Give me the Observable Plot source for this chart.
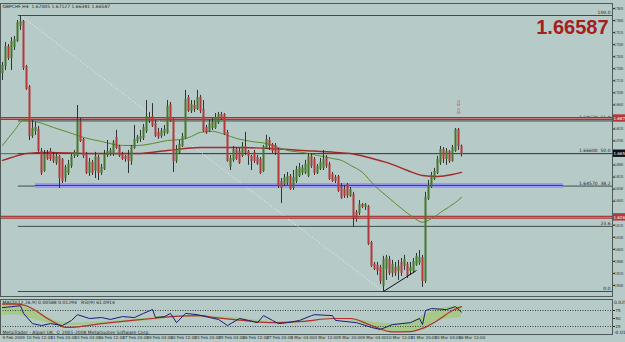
<!DOCTYPE html>
<html><head><meta charset="utf-8">
<script src="https://cdn.jsdelivr.net/npm/d3@7"></script>
<script src="https://cdn.jsdelivr.net/npm/@observablehq/plot@0.6"></script>
<style>
html,body{margin:0;padding:0;background:#b6cac8;}
#wrap{width:625px;height:342px;overflow:hidden;display:flex;flex-direction:column;}
#wrap svg{display:block;max-width:none;}
</style></head><body><div id="wrap"></div>
<script>
// ---------- data ----------
const symbol = "GBPCHF,H4";
// H4 bars, 9 Feb 2009 00:00 .. 16 Mar 2009 12:00 : [open, high, low, close]
const gbpchfH4 = [
[1.7165,1.7228,1.7115,1.7203],[1.7209,1.7352,1.7177,1.7320],[1.7320,1.7339,1.7240,1.7258],[1.7258,1.7383,1.7177,1.7352],
[1.7327,1.7390,1.7302,1.7364],[1.7364,1.7489,1.7352,1.7470],[1.7458,1.7520,1.7427,1.7477],[1.7477,1.7489,1.7177,1.7196],
[1.7196,1.7209,1.7053,1.7065],[1.7071,1.7084,1.6741,1.6773],[1.6773,1.6866,1.6754,1.6810],[1.6804,1.6854,1.6773,1.6816],
[1.6804,1.6829,1.6667,1.6679],[1.6667,1.6691,1.6523,1.6542],[1.6554,1.6679,1.6542,1.6648],[1.6648,1.6679,1.6617,1.6629],
[1.6667,1.6691,1.6611,1.6629],[1.6642,1.6667,1.6598,1.6617],[1.6605,1.6660,1.6586,1.6635],[1.6635,1.6648,1.6442,1.6510],
[1.6617,1.6629,1.6473,1.6492],[1.6510,1.6586,1.6480,1.6567],[1.6542,1.6617,1.6523,1.6586],[1.6586,1.6654,1.6567,1.6635],
[1.6648,1.6679,1.6629,1.6660],[1.6648,1.6959,1.6635,1.6854],[1.6854,1.6878,1.6729,1.6741],[1.6741,1.6754,1.6629,1.6648],
[1.6648,1.6667,1.6529,1.6542],[1.6542,1.6629,1.6517,1.6598],[1.6598,1.6617,1.6523,1.6542],[1.6554,1.6667,1.6504,1.6635],
[1.6629,1.6648,1.6492,1.6542],[1.6542,1.6592,1.6523,1.6567],[1.6567,1.6679,1.6554,1.6648],[1.6654,1.6741,1.6635,1.6667],
[1.6660,1.6691,1.6642,1.6673],[1.6660,1.6741,1.6642,1.6722],[1.6754,1.6804,1.6685,1.6697],[1.6697,1.6710,1.6635,1.6648],
[1.6648,1.6667,1.6617,1.6629],[1.6635,1.6648,1.6605,1.6629],[1.6642,1.6679,1.6535,1.6617],[1.6617,1.6710,1.6586,1.6697],
[1.6697,1.6835,1.6685,1.6741],[1.6741,1.6773,1.6722,1.6754],[1.6754,1.6804,1.6729,1.6760],[1.6760,1.6841,1.6741,1.6816],
[1.6804,1.6990,1.6785,1.6884],[1.6878,1.6916,1.6847,1.6866],[1.6884,1.6971,1.6822,1.6835],[1.6841,1.6866,1.6760,1.6773],
[1.6785,1.6816,1.6748,1.6767],[1.6773,1.6816,1.6754,1.6792],[1.6792,1.6835,1.6767,1.6804],[1.6792,1.6990,1.6779,1.6946],
[1.6959,1.6978,1.6854,1.6866],[1.6866,1.6878,1.6542,1.6617],[1.6617,1.6710,1.6598,1.6679],[1.6667,1.6741,1.6654,1.6710],
[1.6710,1.6785,1.6697,1.6760],[1.6760,1.7053,1.6748,1.6990],[1.7003,1.7022,1.6916,1.6928],[1.6928,1.6990,1.6909,1.6959],
[1.6953,1.6990,1.6916,1.6940],[1.6940,1.7053,1.6928,1.7003],[1.7003,1.7022,1.6909,1.6928],[1.6928,1.6990,1.6792,1.6804],
[1.6816,1.6835,1.6779,1.6792],[1.6804,1.6866,1.6792,1.6841],[1.6822,1.6878,1.6804,1.6847],[1.6822,1.6909,1.6810,1.6878],
[1.6854,1.6916,1.6841,1.6897],[1.6897,1.6916,1.6866,1.6878],[1.6897,1.6909,1.6773,1.6785],[1.6785,1.6804,1.6605,1.6617],
[1.6580,1.6648,1.6554,1.6623],[1.6623,1.6704,1.6605,1.6679],[1.6679,1.6697,1.6617,1.6629],[1.6667,1.6691,1.6592,1.6605],
[1.6648,1.6729,1.6635,1.6697],[1.6697,1.6792,1.6648,1.6667],[1.6667,1.6679,1.6586,1.6648],[1.6635,1.6648,1.6554,1.6617],
[1.6660,1.6679,1.6598,1.6617],[1.6629,1.6648,1.6586,1.6598],[1.6617,1.6635,1.6529,1.6542],[1.6554,1.6710,1.6542,1.6697],
[1.6697,1.6773,1.6685,1.6741],[1.6735,1.6760,1.6679,1.6710],[1.6710,1.6722,1.6660,1.6679],[1.6704,1.6722,1.6648,1.6667],
[1.6679,1.6691,1.6442,1.6461],[1.6480,1.6504,1.6348,1.6448],[1.6473,1.6529,1.6455,1.6504],[1.6480,1.6542,1.6461,1.6510],
[1.6510,1.6529,1.6430,1.6442],[1.6448,1.6554,1.6430,1.6504],[1.6492,1.6580,1.6473,1.6554],[1.6523,1.6598,1.6510,1.6567],
[1.6542,1.6586,1.6523,1.6561],[1.6542,1.6617,1.6529,1.6586],[1.6523,1.6660,1.6510,1.6635],[1.6635,1.6660,1.6567,1.6586],
[1.6617,1.6635,1.6523,1.6542],[1.6542,1.6592,1.6529,1.6573],[1.6567,1.6629,1.6554,1.6598],[1.6573,1.6679,1.6554,1.6617],
[1.6629,1.6648,1.6567,1.6586],[1.6586,1.6605,1.6492,1.6504],[1.6523,1.6542,1.6480,1.6492],[1.6504,1.6523,1.6473,1.6492],
[1.6510,1.6523,1.6418,1.6430],[1.6448,1.6473,1.6374,1.6386],[1.6430,1.6461,1.6380,1.6399],[1.6461,1.6473,1.6380,1.6399],
[1.6399,1.6448,1.6386,1.6430],[1.6399,1.6418,1.6199,1.6261],[1.6286,1.6305,1.6231,1.6255],[1.6293,1.6367,1.6274,1.6336],
[1.6336,1.6348,1.6317,1.6330],[1.6330,1.6348,1.6305,1.6336],[1.6323,1.6336,1.6087,1.6099],[1.6099,1.6112,1.5950,1.5963],
[1.5963,1.5981,1.5931,1.5944],[1.5957,1.5981,1.5900,1.5931],[1.5944,1.5963,1.5844,1.5869],[1.5838,1.6019,1.5800,1.5994],
[1.5944,1.6025,1.5869,1.6006],[1.5994,1.6019,1.5900,1.5919],[1.5919,1.5994,1.5888,1.5963],[1.5944,1.5981,1.5894,1.5919],
[1.5931,1.5994,1.5869,1.5950],[1.5975,1.6006,1.5894,1.5919],[1.5963,1.6025,1.5931,1.5994],[1.5963,1.5981,1.5881,1.5900],
[1.5931,1.5981,1.5900,1.5944],[1.5931,1.6006,1.5912,1.5981],[1.5969,1.6037,1.5957,1.6012],[1.5981,1.6056,1.5963,1.6006],
[1.6006,1.6025,1.5825,1.5869],[1.5869,1.6418,1.5850,1.6380],[1.6380,1.6492,1.6367,1.6455],[1.6455,1.6542,1.6442,1.6517],
[1.6504,1.6567,1.6492,1.6542],[1.6542,1.6642,1.6529,1.6617],[1.6605,1.6704,1.6586,1.6679],[1.6679,1.6697,1.6598,1.6629],
[1.6629,1.6691,1.6586,1.6667],[1.6667,1.6679,1.6598,1.6617],[1.6617,1.6710,1.6605,1.6691],[1.6679,1.6816,1.6667,1.6804],
[1.6804,1.6816,1.6679,1.6710],[1.67005,1.67127,1.66381,1.66587]
];
// moving averages: [bar, price]
const fastMA = [[0,1.6710],[4,1.6804],[7,1.6866],[12,1.6854],[17,1.6822],[22,1.6792],[27,1.6760],[33,1.6735],[40,1.6710],[45,1.6710],[50,1.6722],[55,1.6741],[60,1.6748],[63,1.6767],[66,1.6792],[70,1.6798],[74,1.6779],[78,1.6754],[83,1.6735],[88,1.6722],[92,1.6697],[95,1.6679],[100,1.6667],[105,1.6648],[110,1.6629],[113,1.6617],[116,1.6586],[120,1.6542],[124,1.6461],[129,1.6380],[133,1.6317],[137,1.6261],[140,1.6231],[143,1.6255],[147,1.6305],[151,1.6355],[153,1.6386]];
const slowMA = [[0,1.6617],[3,1.6635],[8,1.6660],[15,1.6667],[30,1.6660],[45,1.6660],[55,1.6679],[66,1.6697],[78,1.6697],[89,1.6691],[100,1.6679],[111,1.6667],[116,1.6660],[122,1.6635],[129,1.6598],[135,1.6554],[140,1.6523],[145,1.6517],[150,1.6529],[153,1.6542]];
// horizontal levels
const redLevels = [1.6878, 1.6262];
const blueLevel = [{price: 1.6461, fromBar: 11, toBar: 187}];
const fibPercents = [0, 23.6, 38.2, 50, 61.8, 100];
const fibAnchors = {highBar: 6, lowBar: 127};
const trendLine = [{fromBar: 127, fromPrice: 1.5800, toBar: 138, toPrice: 1.5931}];
const sellSignals = [{bar: 152, price: 1.6971}, {bar: 152, price: 1.6922}];
const priceTicks = [1.7563,1.7488,1.7413,1.7338,1.7263,1.7188,1.7113,1.7038,1.6963,1.6888,1.6813,1.6738,1.6663,1.6588,1.6513,1.6438,1.6363,1.6288,1.6213,1.6138,1.6063,1.5988,1.5913,1.5838];
// indicator window: [bar, value]
const rsiLine = [[0,84],[3,87],[6,90],[7,66],[10,34],[13,28],[16,34],[20,28],[23,44],[25,62],[29,50],[33,53],[36,47],[40,56],[44,53],[47,66],[50,78],[51,53],[54,56],[56,66],[58,37],[61,66],[65,62],[69,53],[72,47],[75,28],[79,50],[82,44],[85,37],[87,59],[90,44],[92,34],[95,37],[99,44],[103,59],[104,62],[110,59],[111,44],[118,37],[123,22],[126,16],[130,31],[136,37],[139,50],[140,31],[141,75],[143,81],[148,78],[151,87],[153,70]];
const signalLine = [[0,95],[5,95],[8,90],[11,75],[15,50],[18,34],[21,22],[26,25],[33,34],[40,41],[50,50],[56,56],[66,59],[71,53],[80,44],[90,37],[100,41],[110,50],[116,50],[123,28],[130,8],[136,9],[140,19],[145,44],[150,75],[153,87]];
// histogram band: [bar, low, high]
const histBand = [[0,59,98],[5,62,95],[8,53,90],[12,44,72],[16,34,50],[20,28,38],[25,28,35],[30,31,38],[40,37,44],[50,44,53],[60,53,59],[70,50,56],[80,41,50],[90,34,41],[100,37,41],[110,47,50],[118,40,47],[125,12,37],[130,6,34],[136,9,41],[141,16,62],[145,44,78],[150,50,87],[153,53,88]];
const indicatorHeader = "MACD(12,26,9) 0.00588 0.01294   RSI(9) 61.0914";
const indicatorLimits = ["0.02589", "-0.01586"];
const copyright = "MetaTrader - Alpari UK, \u00a9 2001-2008 MetaQuotes Software Corp.";
const dateTicks = [0,8,16,24,32,40,48,56,64,72,80,88,96,104,112,120,128,136,144,152];
const dateLabels = ["9 Feb 2009","10 Feb 12:00","11 Feb 20:00","13 Feb 04:00","16 Feb 12:00","17 Feb 20:00","19 Feb 04:00","20 Feb 12:00","23 Feb 20:00","25 Feb 04:00","26 Feb 12:00","27 Feb 20:00","3 Mar 04:00","4 Mar 12:00","5 Mar 20:00","9 Mar 04:00","10 Mar 12:00","11 Mar 20:00","13 Mar 04:00","16 Mar 12:00"];

// ---------- derived ----------
const bars = gbpchfH4.map((d, i) => ({i, o: d[0], h: d[1], l: d[2], c: d[3]}));
const last = bars[bars.length - 1];
const fibHigh = bars[fibAnchors.highBar].h, fibLow = bars[fibAnchors.lowBar].l;
const fibRows = fibPercents.map(p => ({p, price: fibLow + (fibHigh - fibLow) * p / 100}));
const xDomain = [-0.667, 203.333];
const BG = "#b6cac8";
const tiny = {fontSize: 4.5, fill: "#1e2626"};
const header = `${symbol}  ${last.o.toFixed(5)} ${last.h.toFixed(5)} ${last.l.toFixed(5)} ${last.c.toFixed(5)}`;
const boxes = [...redLevels.map(p => ({price: p, fill: "#b33838"})), {price: last.c, fill: "#101010"}];
// the axis boxes cover the scale labels they sit on, as in the terminal
const axisTicks = priceTicks.filter(t => boxes.every(b => Math.abs(b.price - t) > 0.0045));

const main = Plot.plot({
  width: 625, height: 297,
  marginLeft: 0, marginRight: 13, marginTop: 3, marginBottom: 1,
  style: {background: BG, fontFamily: "DejaVu Sans, sans-serif", fontSize: "4px", color: "#1e2626"},
  x: {domain: xDomain, axis: null},
  y: {domain: [1.57688, 1.75948], axis: "right", ticks: axisTicks, tickSize: 2, tickPadding: 0, tickFormat: ".5f", label: null},
  marks: [
    Plot.ruleY([last.c], {stroke: "#55605f", strokeWidth: 1}),
    Plot.ruleY(fibRows, {y: "price", x1: fibAnchors.highBar - 0.7, x2: xDomain[1], stroke: "#3f4b4b", strokeWidth: 1}),
    Plot.text(fibRows, {x: xDomain[1], y: "price", textAnchor: "end", dx: -2, dy: -3,
      text: d => (d.p === 0 || d.p === 100 || d.p === 23.6) ? d.p.toFixed(1) : `${d.price.toFixed(5)}  ${d.p.toFixed(1)}`, ...tiny}),
    Plot.link([{}], {x1: fibAnchors.highBar, y1: fibHigh, x2: fibAnchors.lowBar, y2: fibLow, stroke: "#f2f6f6", strokeWidth: 1, strokeDasharray: "1,2"}),
    Plot.ruleY(redLevels, {stroke: "#a23434", strokeWidth: 3}),
    Plot.ruleY(redLevels, {stroke: "#d48c8c", strokeWidth: 0.8}),
    Plot.ruleY(blueLevel, {y: "price", x1: "fromBar", x2: "toBar", stroke: "#9a9af0", strokeWidth: 5}),
    Plot.ruleY(blueLevel, {y: "price", x1: "fromBar", x2: "toBar", stroke: "#3434a8", strokeWidth: 1}),
    Plot.line(slowMA, {x: d => d[0], y: d => d[1], stroke: "#a42a2a", strokeWidth: 1.4, curve: "monotone-x"}),
    Plot.line(fastMA, {x: d => d[0], y: d => d[1], stroke: "#5b8a2c", strokeWidth: 1, curve: "monotone-x"}),
    Plot.ruleX(bars, {x: "i", y1: "l", y2: "h", stroke: "#2f3535", strokeWidth: 1}),
    Plot.ruleX(bars.filter(d => d.c >= d.o), {x: "i", y1: "o", y2: "c", stroke: "#46772a", strokeWidth: 2, strokeLinecap: "square"}),
    Plot.ruleX(bars.filter(d => d.c < d.o), {x: "i", y1: "o", y2: "c", stroke: "#b2383a", strokeWidth: 2, strokeLinecap: "square"}),
    Plot.link(trendLine, {x1: "fromBar", y1: "fromPrice", x2: "toBar", y2: "toPrice", stroke: "#111", strokeWidth: 1}),
    Plot.text(sellSignals, {x: "bar", y: "price", text: () => "\u21e9", fill: "#c24a4a", fontSize: 8, fontFamily: "DejaVu Sans"}),
    Plot.rect(boxes, {x1: xDomain[1], x2: xDomain[1] + 5, y1: d => d.price - 0.0023, y2: d => d.price + 0.0023, fill: "fill"}),
    Plot.text(boxes, {x: xDomain[1], y: "price", text: d => d.price.toFixed(5), textAnchor: "start", dx: 1, fontSize: 4, fill: "#fff", ariaLabel: "boxlabels"}),
    Plot.frame({stroke: "#4e5a5a"}),
    Plot.text([header], {frameAnchor: "top-left", dx: 2, dy: 1, lineAnchor: "top", text: d => d, ...tiny}),
    Plot.text([last.c.toFixed(5)], {frameAnchor: "top-right", dx: -4, dy: 16, lineAnchor: "top", text: d => d,
      fontSize: 20, fontWeight: "bold", fill: "#a61d1d", fontFamily: "Liberation Sans, Arial, sans-serif"})
  ]
});

const ind = Plot.plot({
  width: 625, height: 45,
  marginLeft: 0, marginRight: 13, marginTop: 2, marginBottom: 8,
  style: {background: BG, fontFamily: "DejaVu Sans, sans-serif", fontSize: "4px", color: "#1e2626"},
  x: {domain: xDomain, axis: null},
  y: {domain: [0, 109.4], axis: "right", ticks: [25, 50, 75], tickSize: 2, tickPadding: 1, label: null},
  marks: [
    Plot.areaY(histBand, {x: d => d[0], y1: d => d[1], y2: d => d[2], fill: "#a6c889", curve: "monotone-x"}),
    Plot.ruleY([25, 75], {stroke: "#3a4646", strokeDasharray: "1,1.5"}),
    Plot.line(signalLine, {x: d => d[0], y: d => d[1], stroke: "#b23030", strokeWidth: 1.2, curve: "monotone-x"}),
    Plot.line(rsiLine, {x: d => d[0], y: d => d[1], stroke: "#1c1c78", strokeWidth: 1}),
    Plot.frame({stroke: "#4e5a5a"}),
    Plot.text([indicatorHeader], {frameAnchor: "top-left", dx: 2, dy: 1, lineAnchor: "top", text: d => d, ...tiny}),
    Plot.text([copyright], {frameAnchor: "bottom-left", dx: 2, dy: -1, lineAnchor: "bottom", text: d => d, ...tiny}),
    Plot.text([indicatorLimits[0]], {frameAnchor: "top-right", dx: 1.5, dy: 1, textAnchor: "start", text: d => d, ...tiny, ariaLabel: "limits"}),
    Plot.text([indicatorLimits[1]], {frameAnchor: "bottom-right", dx: 1.5, dy: -1, textAnchor: "start", text: d => d, ...tiny, ariaLabel: "limits"}),
    Plot.text(dateTicks, {x: d => d, frameAnchor: "bottom", dy: 4.5, textAnchor: "start", text: (d, i) => dateLabels[i], fontSize: 4, fill: "#1e2626", ariaLabel: "dates"})
  ]
});

const wrap = document.getElementById("wrap");
wrap.appendChild(main);
wrap.appendChild(ind);

// squeeze the tiny MetaTrader-style labels so they fit like the original
function squeeze(svg, selector, maxLen) {
  svg.querySelectorAll(selector).forEach(t => {
    let w = 0;
    try { w = t.getComputedTextLength(); } catch (e) { w = 0; }
    if (w > maxLen) {
      t.setAttribute("textLength", maxLen);
      t.setAttribute("lengthAdjust", "spacingAndGlyphs");
    }
  });
}
squeeze(ind, 'g[aria-label="dates"] text', 18);
squeeze(main, '[aria-label^="y-axis"] text', 8.5);
squeeze(ind, '[aria-label^="y-axis"] text', 8.5);
squeeze(main, 'g[aria-label="boxlabels"] text', 10);
squeeze(ind, 'g[aria-label="limits"] text', 9);
</script>
</body></html>
